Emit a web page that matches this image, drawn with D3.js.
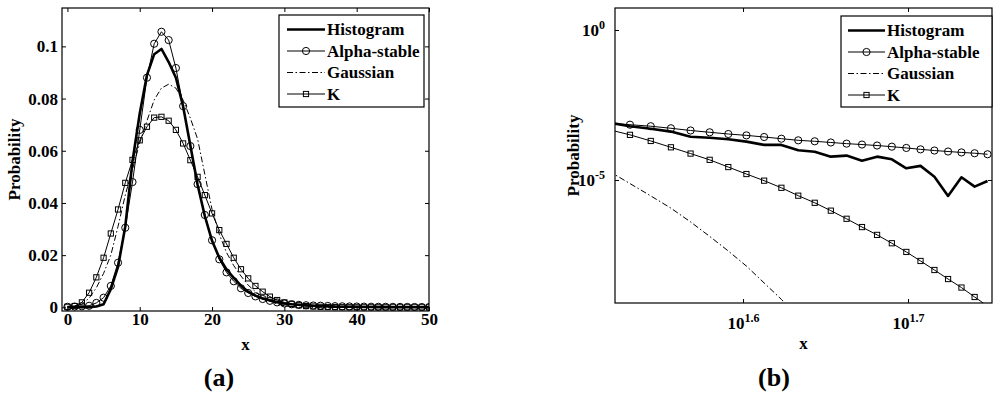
<!DOCTYPE html>
<html>
<head>
<meta charset="utf-8">
<script src="https://cdn.jsdelivr.net/npm/d3@7"></script>
<style>
  body { margin: 0; background: #fff; }
  text { font-family: "Liberation Serif", "Times New Roman", serif; font-weight: bold; fill: #000; }
</style>
</head>
<body>
<svg id="chart" width="1000" height="400"></svg>
<script>
// x grid shared by both panels (left shows 0..50, right zooms on the tail 33..56)
const xValues = [0,1,2,3,4,5,6,7,8,9,10,11,12,13,14,15,16,17,18,19,20,21,22,23,24,25,26,27,28,
  29,30,31,32,33,34,35,36,37,38,39,40,41,42,43,44,45,46,47,48,49,50,51,52,53,54,55,56];

const histogram = [0.0001,0.0001,0.0001,0.0001,0.0003,0.0012,0.007,0.0155,0.031,0.056,0.0743,
  0.089,0.097,0.099,0.094,0.088,0.077,0.062,0.047,0.035,0.0255,0.019,0.0145,0.0113,0.0083,0.006,
  0.0045,0.0034,0.0026,0.002,0.0015,0.0012,0.001,0.00083,0.00062,0.00051,0.00041,0.000275,
  0.000257,0.000229,0.00019,0.000148,0.000148,0.000098,0.000087,0.00006,0.000065,0.000044,
  0.00006,0.000049,0.0000245,0.0000295,0.0000129,0.00000295,0.0000123,0.000006,0.0000093];

const alphaStable = [0.0002,0.0003,0.0004,0.0006,0.0017,0.0037,0.0082,0.0171,0.0305,0.048,0.068,
  0.088,0.101,0.1056,0.1024,0.0917,0.0771,0.0618,0.0472,0.0354,0.0257,0.0184,0.0134,0.01,0.0073,
  0.0055,0.0042,0.0032,0.0025,0.0019,0.0015,0.0012,0.00095,0.00079,0.000697,0.00062,0.00053,
  0.000447,0.000389,0.000341,0.000307,0.000271,0.000238,0.00021,0.000195,0.000178,0.000163,
  0.000152,0.000141,0.000129,0.000117,0.000105,0.000096,0.000089,0.000083,0.000078,0.000072];

// Gaussian fit: only up to x = 43, beyond that it is off the log chart
const gaussian = [0.0001,0.0004,0.0012,0.0035,0.0075,0.013,0.02,0.031,0.043,0.053,0.063,0.0715,
  0.0795,0.084,0.0855,0.084,0.0794,0.0725,0.0645,0.051,0.0375,0.028,0.021,0.016,0.012,0.0085,
  0.006,0.004,0.0024,0.0013,0.0006,0.0002,0.00006,0.00002,0.0000076,0.00000295,0.00000115,
  4.0e-7,1.32e-7,4.3e-8,1.35e-8,3.7e-9,1.05e-9,2.8e-10];

const kDist = [0.0002,0.0005,0.0019,0.0056,0.0115,0.019,0.0283,0.0375,0.0477,0.0565,0.064,0.0692,
  0.0727,0.073,0.0715,0.068,0.0628,0.0564,0.05,0.043,0.036,0.0296,0.0243,0.019,0.0146,0.0111,
  0.0082,0.006,0.0041,0.0028,0.0019,0.0013,0.0008,0.00048,0.00032,0.0002,0.000123,0.000076,
  0.000047,0.000027,0.0000158,0.0000095,0.0000055,0.000003,0.00000174,9.5e-7,5.1e-7,2.7e-7,
  1.48e-7,7.8e-8,4.0e-8,2.0e-8,1.0e-8,5.0e-9,2.6e-9,1.26e-9,6.3e-10];

const seriesNames = ["Histogram", "Alpha-stable", "Gaussian", "K"];
const seriesData = [histogram, alphaStable, gaussian, kDist];

const linTicksX = [0, 10, 20, 30, 40, 50];
const linTicksY = [0, 0.02, 0.04, 0.06, 0.08, 0.1];
const logExpX = [1.6, 1.7];
const logExpY = [0, -5];

const styles = {
  "Histogram":    { width: 2.6, dash: null, marker: null },
  "Alpha-stable": { width: 1, dash: null, marker: "circle" },
  "Gaussian":     { width: 1, dash: "6,2.5,1.5,2.5", marker: null },
  "K":            { width: 1, dash: null, marker: "square" }
};

const svg = d3.select("#chart");

function addMarker(g, type, cx, cy) {
  if (type === "circle") {
    g.append("circle").attr("cx", cx).attr("cy", cy).attr("r", 3.6)
      .attr("fill", "none").attr("stroke", "#000").attr("stroke-width", 1);
  } else if (type === "square") {
    g.append("rect").attr("x", cx - 2.6).attr("y", cy - 2.6).attr("width", 5.2).attr("height", 5.2)
      .attr("fill", "none").attr("stroke", "#000").attr("stroke-width", 1);
  }
}

function drawSeries(g, x, y, xMin, xMax) {
  seriesNames.forEach((name, si) => {
    const st = styles[name];
    const pts = seriesData[si].map((v, i) => [xValues[i], v])
      .filter(p => p[0] >= xMin && p[0] <= xMax);
    const line = d3.line().x(d => x(d[0])).y(d => y(d[1]));
    g.append("path").datum(pts)
      .attr("fill", "none").attr("stroke", "#000")
      .attr("stroke-width", st.width)
      .attr("stroke-linejoin", "round")
      .attr("stroke-dasharray", st.dash)
      .attr("d", line);
    if (st.marker) pts.forEach(p => addMarker(g, st.marker, x(p[0]), y(p[1])));
  });
}

function drawLegend(g, box, lineX1, lineX2, textX) {
  g.append("rect").attr("x", box.x).attr("y", box.y).attr("width", box.w).attr("height", box.h)
    .attr("fill", "#fff").attr("stroke", "#000").attr("stroke-width", 1.2);
  seriesNames.forEach((name, i) => {
    const st = styles[name];
    const cy = box.y + 14.5 + i * 21.5;
    g.append("line").attr("x1", lineX1).attr("x2", lineX2).attr("y1", cy).attr("y2", cy)
      .attr("stroke", "#000").attr("stroke-width", st.width).attr("stroke-dasharray", st.dash);
    if (st.marker) addMarker(g, st.marker, (lineX1 + lineX2) / 2, cy);
    g.append("text").attr("x", textX).attr("y", cy).attr("dy", "0.35em")
      .attr("font-size", 17).text(name);
  });
}

function styleAxis(g) {
  g.attr("font-family", "Liberation Serif, Times New Roman, serif")
    .attr("font-size", 17).attr("font-weight", "bold");
  g.select(".domain").remove();
  g.selectAll(".tick line").attr("stroke", "#000");
}

// ---------- panel (a): linear ----------
const A = { left: 62, right: 429, top: 8, bottom: 311 };
const xA = d3.scaleLinear().domain([-0.75, 50]).range([A.left, A.right]);
const yA = d3.scaleLinear().domain([-0.0014, 0.1147]).range([A.bottom, A.top]);

const gA = svg.append("g");
gA.append("clipPath").attr("id", "clipA").append("rect")
  .attr("x", A.left).attr("y", A.top).attr("width", A.right - A.left).attr("height", A.bottom - A.top);

gA.append("g").attr("transform", `translate(0,${A.bottom})`)
  .call(d3.axisBottom(xA).tickValues(linTicksX).tickSize(-4).tickPadding(2).tickFormat(d3.format("d")))
  .call(styleAxis);
gA.append("g").attr("transform", `translate(0,${A.top})`)
  .call(d3.axisTop(xA).tickValues(linTicksX).tickSize(-4).tickFormat(""))
  .call(styleAxis);
gA.append("g").attr("transform", `translate(${A.left},0)`)
  .call(d3.axisLeft(yA).tickValues(linTicksY).tickSize(-4).tickPadding(4).tickFormat(d => d === 0 ? "0" : d3.format("~g")(d)))
  .call(styleAxis);
gA.append("g").attr("transform", `translate(${A.right},0)`)
  .call(d3.axisRight(yA).tickValues(linTicksY).tickSize(-4).tickFormat(""))
  .call(styleAxis);

drawSeries(gA.append("g").attr("clip-path", "url(#clipA)"), xA, yA, 0, 50);

gA.append("rect").attr("x", A.left).attr("y", A.top).attr("width", A.right - A.left).attr("height", A.bottom - A.top)
  .attr("fill", "none").attr("stroke", "#000").attr("stroke-width", 1.2);

drawLegend(gA, { x: 279, y: 15, w: 145, h: 92 }, 287, 325, 327);

gA.append("text").attr("x", (A.left + A.right) / 2).attr("y", 350).attr("text-anchor", "middle")
  .attr("font-size", 17).text("x");
gA.append("text").attr("transform", `translate(20,${(A.top + A.bottom) / 2}) rotate(-90)`)
  .attr("text-anchor", "middle").attr("font-size", 17).text("Probability");
gA.append("text").attr("x", 219).attr("y", 386).attr("text-anchor", "middle")
  .attr("font-size", 26).text("(a)");

// ---------- panel (b): log-log tail ----------
const B = { left: 615, right: 992, top: 8, bottom: 303 };
const xB = d3.scaleLog().domain([Math.pow(10, 1.5224), Math.pow(10, 1.7509)]).range([B.left, B.right]);
const yB = d3.scaleLog().domain([Math.pow(10, -9.1), Math.pow(10, 0.733)]).range([B.bottom, B.top]);

const gB = svg.append("g");
gB.append("clipPath").attr("id", "clipB").append("rect")
  .attr("x", B.left).attr("y", B.top).attr("width", B.right - B.left).attr("height", B.bottom - B.top);

function powerLabels(g, exps) {
  g.selectAll(".tick text").each(function (d, i) {
    const t = d3.select(this);
    t.text(null);
    t.append("tspan").text("10");
    t.append("tspan").attr("dy", "-0.55em").attr("font-size", 12).text(String(exps[i]));
  });
}

const xTickVals = logExpX.map(e => Math.pow(10, e));
const yTickVals = logExpY.map(e => Math.pow(10, e));

gB.append("g").attr("transform", `translate(0,${B.bottom})`)
  .call(d3.axisBottom(xB).tickValues(xTickVals).tickSize(-4).tickPadding(14))
  .call(styleAxis)
  .call(g => powerLabels(g, logExpX));
gB.append("g").attr("transform", `translate(0,${B.top})`)
  .call(d3.axisTop(xB).tickValues(xTickVals).tickSize(-4).tickFormat(""))
  .call(styleAxis);
gB.append("g").attr("transform", `translate(${B.left},0)`)
  .call(d3.axisLeft(yB).tickValues(yTickVals).tickSize(-4).tickPadding(10))
  .call(styleAxis)
  .call(g => powerLabels(g, logExpY));
gB.append("g").attr("transform", `translate(${B.right},0)`)
  .call(d3.axisRight(yB).tickValues(yTickVals).tickSize(-4).tickFormat(""))
  .call(styleAxis);

drawSeries(gB.append("g").attr("clip-path", "url(#clipB)"), xB, yB, 33, 56);

gB.append("rect").attr("x", B.left).attr("y", B.top).attr("width", B.right - B.left).attr("height", B.bottom - B.top)
  .attr("fill", "none").attr("stroke", "#000").attr("stroke-width", 1.2);

drawLegend(gB, { x: 841, y: 16, w: 151, h: 91 }, 848, 885, 887);

gB.append("text").attr("x", (B.left + B.right) / 2).attr("y", 349).attr("text-anchor", "middle")
  .attr("font-size", 17).text("x");
gB.append("text").attr("transform", `translate(579,${(B.top + B.bottom) / 2}) rotate(-90)`)
  .attr("text-anchor", "middle").attr("font-size", 17).text("Probability");
gB.append("text").attr("x", 774).attr("y", 386).attr("text-anchor", "middle")
  .attr("font-size", 26).text("(b)");
</script>
</body>
</html>
